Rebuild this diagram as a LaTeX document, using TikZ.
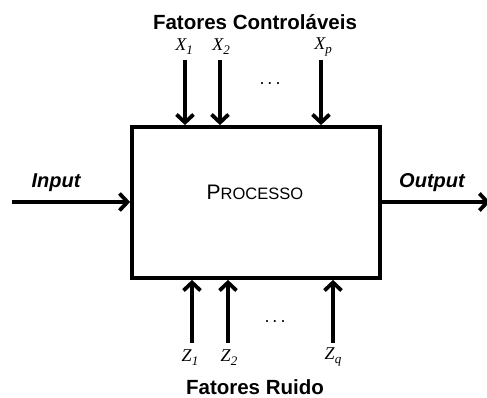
\documentclass[tikz,border=0pt]{standalone}
\usepackage{fontspec}
\setmainfont{Liberation Sans}
\newfontfamily\mathlike{Liberation Serif}
\usetikzlibrary{arrows.meta}
% italic variable with a subscript index
\newcommand{\varsub}[2]{#1\raisebox{-0.22em}{\fontsize{13}{15}\selectfont #2}}
\begin{document}
\begin{tikzpicture}[x=1pt,y=-1pt,
  flow/.style={line width=3.8pt,-{Straight Barb[length=8pt,width=17pt,line width=3.8pt]}},
  title/.style={font=\bfseries\fontsize{20.5}{24}\selectfont},
  io/.style={font=\bfseries\itshape\fontsize{20}{24}\selectfont},
  var/.style={font=\mathlike\itshape\fontsize{18}{20}\selectfont},
  dotsl/.style={font=\fontsize{18}{20}\selectfont}]
\useasboundingbox (0,0) rectangle (487,398);
% process block
\node[draw,line width=3.8pt,minimum width=248pt,minimum height=151pt,inner sep=0pt]
  (proc) at (256,202.5) {};
\node (proclbl) at (255,192) {\fontsize{21}{24}\selectfont P\fontsize{16.5}{19}\selectfont ROCESSO};
% controllable factors
\node[title] (ctitle) at (255,22) {Fatores Controláveis};
\node[var] (x1) at (184,47) {\varsub{X}{1}};
\node[var] (x2) at (221,47) {\varsub{X}{2}};
\node[var] (xp) at (323,47) {\varsub{X}{p}};
\node[dotsl] (xd) at (270,84) {.\hspace{3pt}.\hspace{3pt}.};
\coordinate (x1s) at (185,60);
\coordinate (x2s) at (220,60);
\coordinate (xps) at (321,60);
\draw[flow] (x1s) -- (x1s |- proc.north);
\draw[flow] (x2s) -- (x2s |- proc.north);
\draw[flow] (xps) -- (xps |- proc.north);
% noise factors
\node[title] (ntitle) at (255,387) {Fatores Ruido};
\node[var] (z1) at (190,358) {\varsub{Z}{1}};
\node[var] (z2) at (229,358) {\varsub{Z}{2}};
\node[var] (zq) at (333,357) {\varsub{Z}{q}};
\node[dotsl] (zd) at (275,322) {.\hspace{3pt}.\hspace{3pt}.};
\coordinate (z1s) at (192,343);
\coordinate (z2s) at (228,343);
\coordinate (zqs) at (333,343);
\draw[flow] (z1s) -- (z1s |- proc.south);
\draw[flow] (z2s) -- (z2s |- proc.south);
\draw[flow] (zqs) -- (zqs |- proc.south);
% input and output
\coordinate (ins) at (12,202);
\coordinate (oute) at (490,202);
\draw[flow] (ins) -- (proc.west |- ins);
\draw[flow] (proc.east |- oute) -- (oute);
\node[io] (inl) at (56,183) {Input};
\node[io] (outl) at (432,183) {Output};
\end{tikzpicture}
\end{document}
